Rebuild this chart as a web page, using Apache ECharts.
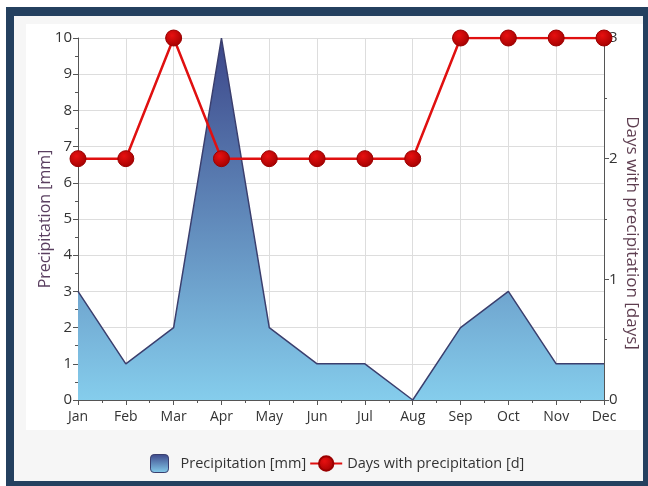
<!DOCTYPE html>
<html>
<head>
<meta charset="utf-8">
<script src="https://cdn.jsdelivr.net/npm/echarts@6/dist/echarts.min.js"></script>
<style>
  body { margin: 0; background: #fff; }
  #frame { position: absolute; left: 6px; top: 7px; width: 642px; height: 479px; background: #24405f; }
  #inner { position: absolute; left: 14px; top: 16px; width: 629px; height: 465px; background: #f6f6f6; }
  #panel { position: absolute; left: 26px; top: 24px; width: 617px; height: 406px; background: #fff; }
  #main { position: absolute; left: 0; top: 0; width: 648px; height: 486px; }
</style>
</head>
<body>
<div id="frame"></div>
<div id="inner"></div>
<div id="panel"></div>
<div id="main"></div>
<script>
// chart data
const months = ['Jan', 'Feb', 'Mar', 'Apr', 'May', 'Jun', 'Jul', 'Aug', 'Sep', 'Oct', 'Nov', 'Dec'];
const precipitation = [3, 1, 2, 10, 2, 1, 1, 0, 2, 3, 1, 1];
const rainDays = [2, 2, 3, 2, 2, 2, 2, 2, 3, 3, 3, 3];

const fontFamily = '"Open Sans", sans-serif';
const axisColor = '#555';

const areaFill = {
  type: 'linear', x: 0, y: 0, x2: 0, y2: 1,
  colorStops: [
    { offset: 0, color: '#3c4689' },
    { offset: 1, color: '#85cdec' }
  ]
};
const markerFill = {
  type: 'radial', x: 0.4, y: 0.35, r: 0.7,
  colorStops: [
    { offset: 0, color: '#e81010' },
    { offset: 1, color: '#a00000' }
  ]
};

const chart = echarts.init(document.getElementById('main'));

chart.setOption({
  animation: false,
  textStyle: { fontFamily: fontFamily },
  grid: { left: 78, right: 44, top: 38, bottom: 86, outerBoundsMode: 'none' },
  legend: {
    bottom: 8,
    left: 145,
    itemWidth: 32,
    itemHeight: 18,
    itemGap: 3,
    textStyle: { fontSize: 14.5, color: '#333' },
    data: [
      {
        name: 'Precipitation [mm]',
        icon: 'path://M2,0H8A2,2,0,0,1,10,2V8A2,2,0,0,1,8,10H2A2,2,0,0,1,0,8V2A2,2,0,0,1,2,0Z',
        itemStyle: { color: areaFill, borderColor: '#3b3f6e', borderWidth: 1 }
      },
      { name: 'Days with precipitation [d]' }
    ]
  },
  xAxis: {
    type: 'value',
    min: 0,
    max: months.length - 1,
    interval: 1,
    axisLine: { show: true, lineStyle: { color: axisColor } },
    axisTick: { show: true, length: 5, lineStyle: { color: axisColor } },
    minorTick: { show: true, splitNumber: 2, length: 3, lineStyle: { color: axisColor } },
    axisLabel: {
      color: '#333', fontSize: 14, margin: 10,
      formatter: (v) => months[v] || ''
    },
    splitLine: { show: true, lineStyle: { color: '#dddddd' } }
  },
  yAxis: [
    {
      type: 'value',
      min: 0, max: 10, interval: 1,
      name: 'Precipitation [mm]',
      nameLocation: 'middle',
      nameRotate: 90,
      nameGap: 25,
      nameMoveOverlap: false,
      nameTextStyle: { color: '#5a3f60', fontSize: 16 },
      axisLine: { show: true, lineStyle: { color: axisColor } },
      axisTick: { show: true, length: 5, lineStyle: { color: axisColor } },
      minorTick: { show: true, splitNumber: 2, length: 3, lineStyle: { color: axisColor } },
      axisLabel: { color: '#333', fontSize: 15, margin: 6 },
      splitLine: { show: true, lineStyle: { color: '#dddddd' } }
    },
    {
      type: 'value',
      min: 0, max: 3, interval: 1,
      position: 'right',
      name: 'Days with precipitation [days]',
      nameLocation: 'middle',
      nameRotate: -90,
      nameGap: 19,
      nameMoveOverlap: false,
      nameTextStyle: { color: '#5e3e50', fontSize: 17, padding: [0, 0, 0, 28] },
      axisLine: { show: true, lineStyle: { color: axisColor } },
      axisTick: { show: true, length: 5, lineStyle: { color: axisColor } },
      minorTick: { show: true, splitNumber: 2, length: 3, lineStyle: { color: axisColor } },
      axisLabel: { color: '#333', fontSize: 15, margin: 5 },
      splitLine: { show: false }
    }
  ],
  series: [
    {
      name: 'Precipitation [mm]',
      type: 'line',
      yAxisIndex: 0,
      data: precipitation.map((v, i) => [i, v]),
      symbol: 'none',
      lineStyle: { color: '#3b3f6e', width: 1.5 },
      itemStyle: { color: areaFill },
      areaStyle: { color: areaFill, opacity: 1 },
      z: 2
    },
    {
      name: 'Days with precipitation [d]',
      type: 'line',
      yAxisIndex: 1,
      data: rainDays.map((v, i) => [i, v]),
      symbol: 'circle',
      symbolSize: 16,
      lineStyle: { color: '#e01010', width: 2.5 },
      itemStyle: { color: markerFill, borderColor: '#9a0000', borderWidth: 1 },
      z: 3
    }
  ]
});
</script>
</body>
</html>
